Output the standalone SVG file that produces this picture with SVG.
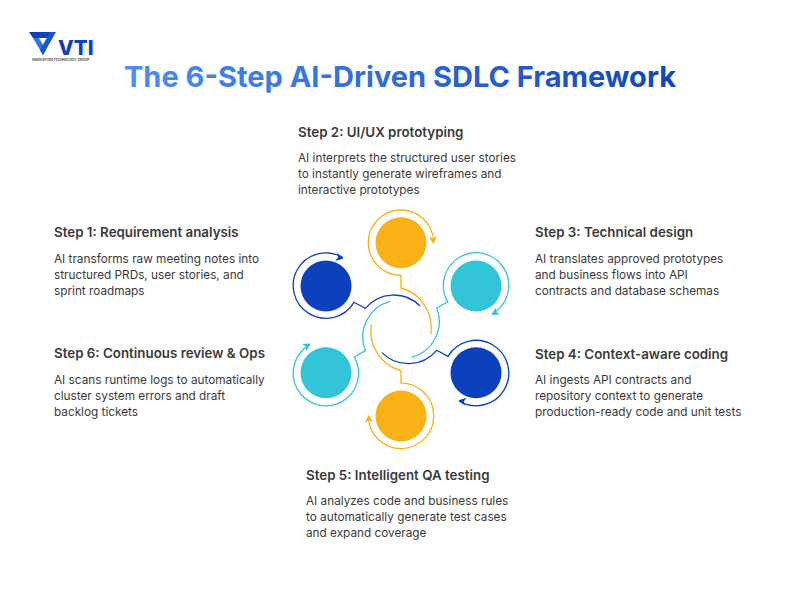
<svg xmlns="http://www.w3.org/2000/svg" width="800" height="600" viewBox="0 0 800 600">
<style>
text{font-family:Inter,"Liberation Sans",sans-serif;fill:#3a3a3a}
.h{font-size:13.35px;font-weight:600}
.b{font-size:11.77px}
.l{fill:none;stroke-width:1.3}
.y{stroke:#f9b216}.n{stroke:#0c40bc}.c{stroke:#32c5d8}
</style>
<defs>
<linearGradient id="g" gradientUnits="userSpaceOnUse" x1="124" y1="0" x2="676" y2="0"><stop offset="0" stop-color="#4c8df6"/><stop offset="1" stop-color="#0f46bd"/></linearGradient>
<path id="head" d="M0 0L-7.5 -4.2L-5.5 0L-7.5 4.2Z"/>
</defs>
<g id="logo">
<path d="M29 32H52L49 38H33Z" fill="#0c40bc"/>
<path d="M33 38H39L46 50L43 55Z" fill="#2f73e6"/>
<path d="M50 32H56L43 55L40 50Z" fill="#1a55d0"/>
<text x="58" y="55" style="font-size:20.5px;font-weight:800;fill:#0c40bc">VTI</text>
<text x="32" y="60.5" style="font-size:3.3px;font-weight:600;fill:#444">INNOVATION TECHNOLOGY GROUP</text>
</g>
<text id="title" x="400" y="87" text-anchor="middle" style="font-size:29px;font-weight:700;fill:url(#g)">The 6-Step AI-Driven SDLC Framework</text>
<g id="connectors">
<path class="l y" d="M433.6 241A32.7 32.7 0 1 0 401 275.4V288A41 41 0 0 1 430.7 334"/>
<path class="l n" d="M342.7 257.5A32.7 32.7 0 1 0 354 302.3L365.3 308.3A37 37 0 0 1 420 306"/>
<path class="l c" d="M492 314A32.7 32.7 0 1 0 447.7 301.7L436.7 308A37 37 0 0 1 411.7 357.3"/>
<path class="l y" d="M368.4 417.6A32.7 32.7 0 1 0 401 383.2V370.6A41 41 0 0 1 371.3 324.6"/>
<path class="l n" d="M459.3 401.1A32.7 32.7 0 1 0 448 356.3L436.7 350.3A37 37 0 0 1 382 352.6"/>
<path class="l c" d="M310 344.6A32.7 32.7 0 1 0 354.3 357L365.3 350.6A37 37 0 0 1 390.3 301.3"/>
<use href="#head" fill="#f9b216" transform="translate(433.3 244) rotate(88)"/>
<use href="#head" fill="#0c40bc" transform="translate(343.5 258.5) rotate(12)"/>
<use href="#head" fill="#32c5d8" transform="translate(491.5 315) rotate(148)"/>
<use href="#head" fill="#f9b216" transform="translate(368.7 415) rotate(-92)"/>
<use href="#head" fill="#0c40bc" transform="translate(458.5 400.2) rotate(192)"/>
<use href="#head" fill="#32c5d8" transform="translate(310.5 343.6) rotate(-32)"/>
</g>
<g id="step1"><circle cx="326" cy="286" r="25.5" fill="#0c40bc"/>
<text class="h" x="54" y="237">Step 1: Requirement analysis</text>
<text class="b" x="54" y="263">AI transforms raw meeting notes into</text><text class="b" x="54" y="279">structured PRDs, user stories, and</text><text class="b" x="54" y="295">sprint roadmaps</text></g>
<g id="step2"><circle cx="401" cy="242.7" r="25.5" fill="#f9b216"/>
<text class="h" x="298" y="137">Step 2: UI/UX prototyping</text>
<text class="b" x="298" y="162">AI interprets the structured user stories</text><text class="b" x="298" y="178">to instantly generate wireframes and</text><text class="b" x="298" y="194">interactive prototypes</text></g>
<g id="step3"><circle cx="476" cy="286" r="25.5" fill="#32c5d8"/>
<text class="h" x="535" y="237">Step 3: Technical design</text>
<text class="b" x="535" y="263">AI translates approved prototypes</text><text class="b" x="535" y="279">and business flows into API</text><text class="b" x="535" y="295">contracts and database schemas</text></g>
<g id="step4"><circle cx="476" cy="372.7" r="25.5" fill="#0c40bc"/>
<text class="h" x="535" y="359">Step 4: Context-aware coding</text>
<text class="b" x="535" y="384">AI ingests API contracts and</text><text class="b" x="535" y="400">repository context to generate</text><text class="b" x="535" y="416">production-ready code and unit tests</text></g>
<g id="step5"><circle cx="401" cy="416" r="25.5" fill="#f9b216"/>
<text class="h" x="306" y="480">Step 5: Intelligent QA testing</text>
<text class="b" x="306" y="505">AI analyzes code and business rules</text><text class="b" x="306" y="521">to automatically generate test cases</text><text class="b" x="306" y="537">and expand coverage</text></g>
<g id="step6"><circle cx="326" cy="372.7" r="25.5" fill="#32c5d8"/>
<text class="h" x="54" y="358">Step 6: Continuous review &amp; Ops</text>
<text class="b" x="54" y="384">AI scans runtime logs to automatically</text><text class="b" x="54" y="400">cluster system errors and draft</text><text class="b" x="54" y="416">backlog tickets</text></g>
</svg>
